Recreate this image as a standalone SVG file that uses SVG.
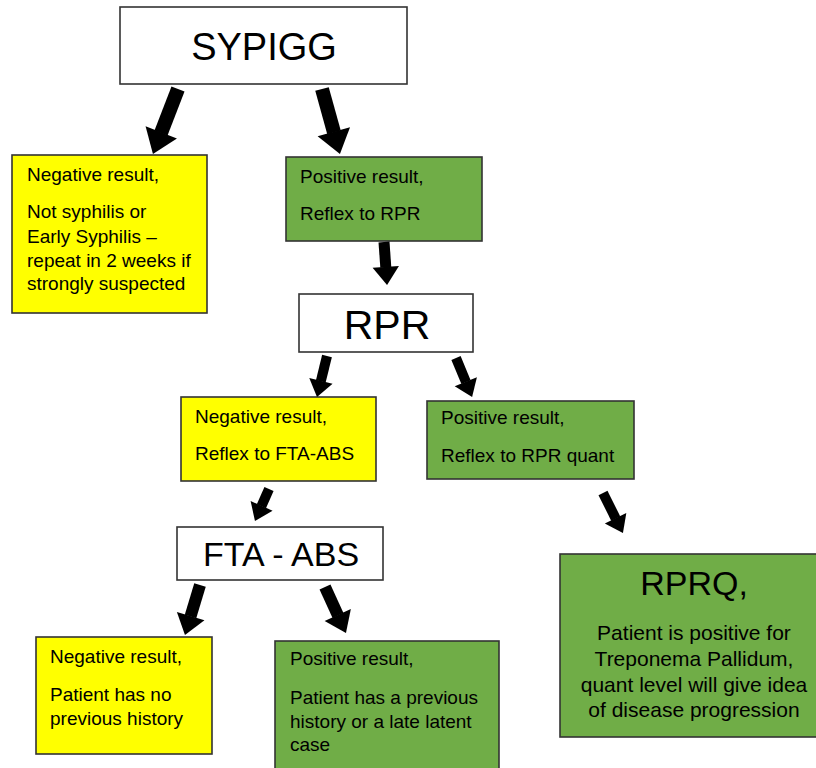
<svg xmlns="http://www.w3.org/2000/svg" width="816" height="768" viewBox="0 0 816 768">
<defs>
<style>
.box{stroke:#333;stroke-width:1.6}
.w{fill:#fff}
.y{fill:#ffff00}
.g{fill:#70ad47}
text{font-family:"Liberation Sans",Arial,sans-serif;fill:#000}
.t{font-size:19px}
.big{font-size:40px;text-anchor:middle}
.mid{font-size:21px;text-anchor:middle}
.arr{stroke:#000;fill:none;stroke-linecap:butt;marker-end:url(#head)}
</style>
<marker id="head" markerUnits="strokeWidth" viewBox="0 0 1.6 2.4" refX="0" refY="1.2" markerWidth="1.6" markerHeight="2.4" orient="auto" overflow="visible">
<path d="M-0.05,0 L1.6,1.2 L-0.05,2.4 Z" fill="#000"/>
</marker>
</defs>
<rect width="816" height="768" fill="#fff"/>

<g id="sypigg">
<rect class="box w" x="120" y="7" width="287" height="77"/>
<text class="big" x="264" y="60" style="font-size:38px">SYPIGG</text>
</g>

<g id="neg1">
<rect class="box y" x="12" y="155" width="195" height="158"/>
<text class="t" x="27" y="181">Negative result,</text>
<text class="t" x="27" y="218">Not syphilis or</text>
<text class="t" x="27" y="243">Early Syphilis –</text>
<text class="t" x="27" y="267">repeat in 2 weeks if</text>
<text class="t" x="27" y="290">strongly suspected</text>
</g>

<g id="pos1">
<rect class="box g" x="286" y="157" width="196" height="84"/>
<text class="t" x="300" y="183">Positive result,</text>
<text class="t" x="300" y="220">Reflex to RPR</text>
</g>

<g id="rpr">
<rect class="box w" x="299" y="294" width="174" height="58"/>
<text class="big" x="387" y="339" style="font-size:41px">RPR</text>
</g>

<g id="neg2">
<rect class="box y" x="181" y="397" width="195" height="84"/>
<text class="t" x="195" y="423">Negative result,</text>
<text class="t" x="195" y="460">Reflex to FTA-ABS</text>
</g>

<g id="pos2">
<rect class="box g" x="427" y="401" width="207" height="78"/>
<text class="t" x="441" y="424">Positive result,</text>
<text class="t" x="441" y="462">Reflex to RPR quant</text>
</g>

<g id="fta">
<rect class="box w" x="177" y="527" width="206" height="53"/>
<text class="big" x="281" y="566" style="font-size:34px">FTA - ABS</text>
</g>

<g id="rprq">
<rect class="box g" x="560" y="554" width="260" height="183"/>
<text class="big" x="694" y="595" style="font-size:34px">RPRQ,</text>
<text class="mid" x="694" y="640">Patient is positive for</text>
<text class="mid" x="694" y="666">Treponema Pallidum,</text>
<text class="mid" x="694" y="692">quant level will give idea</text>
<text class="mid" x="694" y="717">of disease progression</text>
</g>

<g id="neg3">
<rect class="box y" x="36" y="637" width="176" height="117"/>
<text class="t" x="50" y="663">Negative result,</text>
<text class="t" x="50" y="701">Patient has no</text>
<text class="t" x="50" y="725">previous history</text>
</g>

<g id="pos3">
<rect class="box g" x="275" y="641" width="224" height="132"/>
<text class="t" x="290" y="665">Positive result,</text>
<text class="t" x="290" y="704">Patient has a previous</text>
<text class="t" x="290" y="728">history or a late latent</text>
<text class="t" x="290" y="751">case</text>
</g>

<g id="connectors">
<line class="arr" x1="178" y1="89" x2="161" y2="133" stroke-width="14"/>
<line class="arr" x1="322" y1="89" x2="334" y2="132.4" stroke-width="14"/>
<line class="arr" x1="384" y1="242" x2="385.8" y2="267.4" stroke-width="11"/>
<line class="arr" x1="327" y1="356" x2="320.8" y2="381.4" stroke-width="10"/>
<line class="arr" x1="456" y1="358" x2="466" y2="382.2" stroke-width="10"/>
<line class="arr" x1="269" y1="489" x2="261.4" y2="506.3" stroke-width="10"/>
<line class="arr" x1="603" y1="493" x2="615.8" y2="518.7" stroke-width="10"/>
<line class="arr" x1="200" y1="585" x2="190.5" y2="616.6" stroke-width="12"/>
<line class="arr" x1="325" y1="587" x2="338" y2="615.5" stroke-width="12"/>
</g>
</svg>
